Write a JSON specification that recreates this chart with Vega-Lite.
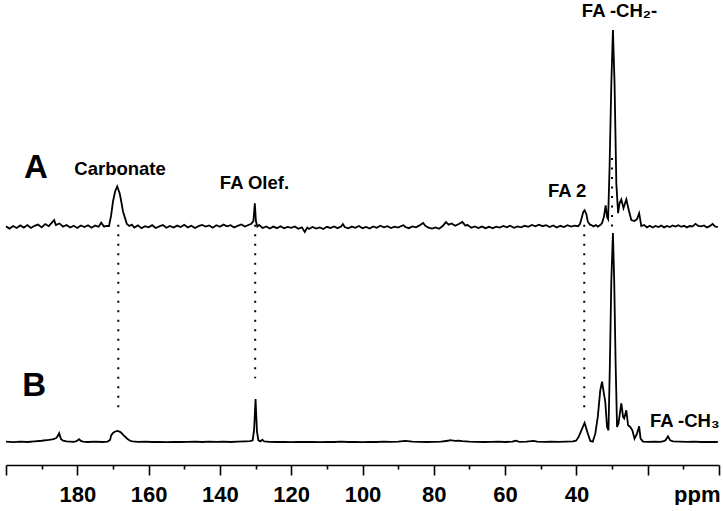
{
  "$schema": "https://vega.github.io/schema/vega-lite/v6.json",
  "width": 713,
  "height": 465,
  "padding": {"left": 2, "top": 0, "right": 8, "bottom": 0},
  "background": "white",
  "config": {"view": {"stroke": null}, "font": "Liberation Sans"},
  "datasets": {
    "A": [
      {"ppm":200,"I":0.3},{"ppm":199,"I":-0.8},{"ppm":198,"I":0.5},{"ppm":197,"I":-0.5},{"ppm":196,"I":0.8},{"ppm":195,"I":-0.3},{"ppm":194,"I":1.0},{"ppm":193,"I":-0.5},{"ppm":192,"I":0.6},{"ppm":191,"I":1.2},{"ppm":190,"I":-0.2},{"ppm":189,"I":1.5},{"ppm":188,"I":0.4},{"ppm":187,"I":2.5},{"ppm":186.5,"I":3.5},{"ppm":186,"I":1.0},{"ppm":185,"I":1.8},{"ppm":184,"I":0.2},{"ppm":183,"I":1.0},{"ppm":182,"I":-0.3},{"ppm":181,"I":0.6},{"ppm":180,"I":-0.5},{"ppm":179,"I":0.8},{"ppm":178,"I":0.0},{"ppm":177,"I":0.9},{"ppm":176,"I":-0.4},{"ppm":175,"I":0.7},{"ppm":174,"I":0.1},{"ppm":173.3,"I":2.2},{"ppm":172.5,"I":0.2},{"ppm":171.8,"I":0.6},{"ppm":171.1,"I":0.5},{"ppm":170.5,"I":6},{"ppm":170.0,"I":12.8},{"ppm":169.4,"I":18},{"ppm":168.8,"I":20.6},{"ppm":168.1,"I":17},{"ppm":167.65,"I":12.8},{"ppm":167.2,"I":8},{"ppm":166.7,"I":5},{"ppm":166.1,"I":1.5},{"ppm":165.4,"I":0.5},{"ppm":164.7,"I":1.2},{"ppm":164,"I":-0.3},{"ppm":163,"I":0.8},{"ppm":162,"I":-0.6},{"ppm":161,"I":0.4},{"ppm":160,"I":-0.2},{"ppm":159,"I":0.9},{"ppm":158,"I":-0.5},{"ppm":157,"I":0.3},{"ppm":156,"I":1.0},{"ppm":155,"I":-0.4},{"ppm":154,"I":0.5},{"ppm":153,"I":-0.3},{"ppm":152,"I":0.7},{"ppm":151,"I":0.0},{"ppm":150,"I":1.1},{"ppm":149,"I":-0.2},{"ppm":148,"I":0.6},{"ppm":147,"I":-0.5},{"ppm":146,"I":0.4},{"ppm":145,"I":1.0},{"ppm":144,"I":0.2},{"ppm":143,"I":0.8},{"ppm":142,"I":-0.4},{"ppm":141,"I":0.9},{"ppm":140,"I":0.1},{"ppm":139,"I":1.2},{"ppm":138,"I":0.3},{"ppm":137,"I":0.9},{"ppm":136,"I":-0.3},{"ppm":135,"I":0.6},{"ppm":134,"I":1.3},{"ppm":133,"I":0.2},{"ppm":132,"I":1.0},{"ppm":131.2,"I":1.6},{"ppm":130.6,"I":3},{"ppm":130.2,"I":12},{"ppm":129.9,"I":3},{"ppm":129.5,"I":0.2},{"ppm":129,"I":1.0},{"ppm":128,"I":-0.5},{"ppm":127,"I":0.3},{"ppm":126,"I":-0.8},{"ppm":125,"I":0.2},{"ppm":124,"I":-0.6},{"ppm":123,"I":0.4},{"ppm":122,"I":-0.7},{"ppm":121,"I":0.0},{"ppm":120,"I":-0.4},{"ppm":119,"I":0.3},{"ppm":118,"I":-0.9},{"ppm":117,"I":-0.2},{"ppm":116.2,"I":-2.5},{"ppm":115.5,"I":-0.3},{"ppm":115,"I":-1.0},{"ppm":114,"I":0.0},{"ppm":113,"I":-0.8},{"ppm":112,"I":-0.2},{"ppm":111,"I":-1.0},{"ppm":110,"I":0.1},{"ppm":109,"I":-0.5},{"ppm":108,"I":0.3},{"ppm":107,"I":-0.6},{"ppm":106,"I":0.2},{"ppm":105.5,"I":1.5},{"ppm":105,"I":0.0},{"ppm":104,"I":-0.7},{"ppm":103,"I":0.2},{"ppm":102,"I":-0.4},{"ppm":101,"I":0.5},{"ppm":100,"I":-0.6},{"ppm":99,"I":0.0},{"ppm":98,"I":-0.8},{"ppm":97,"I":0.3},{"ppm":96,"I":-0.4},{"ppm":95,"I":0.6},{"ppm":94,"I":-0.2},{"ppm":93,"I":0.4},{"ppm":92,"I":-0.5},{"ppm":91,"I":0.2},{"ppm":90,"I":-0.3},{"ppm":89,"I":0.6},{"ppm":88.5,"I":0.9},{"ppm":88,"I":0.0},{"ppm":87,"I":-0.6},{"ppm":86,"I":0.3},{"ppm":85,"I":-0.2},{"ppm":84,"I":0.8},{"ppm":83,"I":2.0},{"ppm":82.3,"I":0.5},{"ppm":81.5,"I":-0.3},{"ppm":80.5,"I":-0.8},{"ppm":79.5,"I":-0.2},{"ppm":78.5,"I":-0.9},{"ppm":77.5,"I":0.5},{"ppm":76.6,"I":2.5},{"ppm":75.8,"I":1.2},{"ppm":75,"I":1.8},{"ppm":74,"I":0.6},{"ppm":73,"I":1.5},{"ppm":72,"I":2.6},{"ppm":71.2,"I":0.8},{"ppm":70.5,"I":1.0},{"ppm":69.5,"I":-0.4},{"ppm":68.5,"I":0.3},{"ppm":67.5,"I":-0.5},{"ppm":66.5,"I":0.2},{"ppm":65.5,"I":-0.6},{"ppm":64.5,"I":0.1},{"ppm":63.5,"I":-0.7},{"ppm":62.5,"I":0.2},{"ppm":61.5,"I":-0.3},{"ppm":60.5,"I":0.5},{"ppm":59.5,"I":-0.2},{"ppm":58.6,"I":0.6},{"ppm":57.5,"I":-0.4},{"ppm":56.5,"I":0.3},{"ppm":55.5,"I":-0.2},{"ppm":54.5,"I":0.6},{"ppm":53.5,"I":0.1},{"ppm":52.5,"I":1.0},{"ppm":51.5,"I":0.3},{"ppm":50.5,"I":1.2},{"ppm":49.5,"I":0.4},{"ppm":48.5,"I":0.9},{"ppm":47.5,"I":0.0},{"ppm":46.5,"I":0.8},{"ppm":45.5,"I":-0.3},{"ppm":44.5,"I":0.6},{"ppm":43.5,"I":0.0},{"ppm":42.5,"I":0.9},{"ppm":41.5,"I":0.2},{"ppm":40.5,"I":0.7},{"ppm":39.5,"I":0.4},{"ppm":39.0,"I":1.5},{"ppm":38.6,"I":4},{"ppm":38.1,"I":7.5},{"ppm":37.7,"I":8.5},{"ppm":37.2,"I":6.5},{"ppm":36.8,"I":2.7},{"ppm":36.2,"I":1.2},{"ppm":35.8,"I":1.0},{"ppm":35.2,"I":0.3},{"ppm":34.5,"I":1.0},{"ppm":34.0,"I":0.2},{"ppm":33.3,"I":1.0},{"ppm":32.8,"I":2.0},{"ppm":32.3,"I":5},{"ppm":31.8,"I":11},{"ppm":31.4,"I":5},{"ppm":31.1,"I":4},{"ppm":30.7,"I":30},{"ppm":30.2,"I":73},{"ppm":29.75,"I":100},{"ppm":29.3,"I":73},{"ppm":28.8,"I":22},{"ppm":28.3,"I":7},{"ppm":27.9,"I":12},{"ppm":27.4,"I":14},{"ppm":26.8,"I":9.5},{"ppm":26.0,"I":14},{"ppm":25.3,"I":8.5},{"ppm":24.6,"I":3.5},{"ppm":23.7,"I":3},{"ppm":23.0,"I":4},{"ppm":22.4,"I":7},{"ppm":21.8,"I":0.5},{"ppm":21.0,"I":1.0},{"ppm":20.2,"I":-0.2},{"ppm":19.4,"I":0.6},{"ppm":18.6,"I":-0.3},{"ppm":17.8,"I":0.5},{"ppm":17,"I":0.0},{"ppm":16.2,"I":0.7},{"ppm":15.4,"I":-0.2},{"ppm":14.6,"I":0.5},{"ppm":13.8,"I":0.0},{"ppm":13,"I":0.8},{"ppm":12.2,"I":0.2},{"ppm":11.4,"I":0.9},{"ppm":10.6,"I":0.1},{"ppm":9.8,"I":0.6},{"ppm":9.0,"I":-0.2},{"ppm":8.2,"I":0.5},{"ppm":7.4,"I":0.3},{"ppm":6.6,"I":1.6},{"ppm":5.8,"I":0.5},{"ppm":5.0,"I":0.3},{"ppm":4.2,"I":0.8},{"ppm":3.4,"I":-0.2},{"ppm":2.6,"I":0.4},{"ppm":1.8,"I":1.5},{"ppm":1.0,"I":0.2},{"ppm":0.3,"I":0.0}
    ],
    "B": [
      {"ppm":200,"I":0.2},{"ppm":198,"I":-0.1},{"ppm":196,"I":0.2},{"ppm":194,"I":0.0},{"ppm":192,"I":0.3},{"ppm":190,"I":0.6},{"ppm":188,"I":1.0},{"ppm":187,"I":1.3},{"ppm":186,"I":1.8},{"ppm":185.5,"I":2.8},{"ppm":185.1,"I":4.2},{"ppm":184.6,"I":1.5},{"ppm":184,"I":0.6},{"ppm":183,"I":0.3},{"ppm":182,"I":0.2},{"ppm":181,"I":0.1},{"ppm":180.2,"I":0.4},{"ppm":179.5,"I":1.3},{"ppm":179,"I":0.5},{"ppm":178.4,"I":0.2},{"ppm":177,"I":0.0},{"ppm":175,"I":0.2},{"ppm":173,"I":0.0},{"ppm":171.5,"I":0.2},{"ppm":170.8,"I":1.0},{"ppm":170.5,"I":3.2},{"ppm":170,"I":4.3},{"ppm":169.5,"I":4.9},{"ppm":168.8,"I":5.3},{"ppm":168,"I":4.9},{"ppm":167.5,"I":4.1},{"ppm":167.0,"I":3.2},{"ppm":166.5,"I":2.4},{"ppm":166.0,"I":1.5},{"ppm":165.2,"I":0.6},{"ppm":164.5,"I":0.3},{"ppm":163,"I":0.1},{"ppm":161,"I":0.2},{"ppm":159,"I":0.0},{"ppm":157,"I":0.1},{"ppm":155,"I":-0.1},{"ppm":153,"I":0.1},{"ppm":151,"I":0.0},{"ppm":149,"I":0.1},{"ppm":147,"I":0.2},{"ppm":145,"I":0.0},{"ppm":143,"I":0.2},{"ppm":141,"I":0.1},{"ppm":139,"I":0.2},{"ppm":137,"I":0.0},{"ppm":135,"I":0.2},{"ppm":133,"I":0.3},{"ppm":131.5,"I":0.4},{"ppm":130.8,"I":0.8},{"ppm":130.4,"I":6},{"ppm":130.0,"I":20.6},{"ppm":129.6,"I":5},{"ppm":129.2,"I":0.8},{"ppm":128.6,"I":0.3},{"ppm":128.1,"I":1.1},{"ppm":127.6,"I":0.3},{"ppm":126,"I":0.1},{"ppm":124,"I":0.0},{"ppm":122,"I":0.1},{"ppm":120,"I":-0.1},{"ppm":118,"I":0.1},{"ppm":116,"I":0.0},{"ppm":114,"I":0.1},{"ppm":112,"I":-0.1},{"ppm":110,"I":0.1},{"ppm":108,"I":0.0},{"ppm":106,"I":0.2},{"ppm":104,"I":0.0},{"ppm":102,"I":0.1},{"ppm":100,"I":-0.1},{"ppm":98,"I":0.1},{"ppm":96,"I":0.0},{"ppm":94,"I":0.2},{"ppm":92,"I":0.1},{"ppm":90,"I":0.2},{"ppm":88,"I":0.5},{"ppm":86,"I":0.2},{"ppm":84,"I":0.1},{"ppm":82,"I":0.0},{"ppm":80,"I":0.1},{"ppm":78,"I":0.2},{"ppm":76,"I":0.6},{"ppm":75.5,"I":0.9},{"ppm":74,"I":0.5},{"ppm":73,"I":0.7},{"ppm":72,"I":0.4},{"ppm":70,"I":0.2},{"ppm":68,"I":0.1},{"ppm":66,"I":0.0},{"ppm":64,"I":0.1},{"ppm":62,"I":0.2},{"ppm":60,"I":0.0},{"ppm":58,"I":0.2},{"ppm":57,"I":0.6},{"ppm":56,"I":0.1},{"ppm":54,"I":0.2},{"ppm":52,"I":0.5},{"ppm":51,"I":0.2},{"ppm":49,"I":0.1},{"ppm":47,"I":0.2},{"ppm":45,"I":0.1},{"ppm":43,"I":0.2},{"ppm":41,"I":0.3},{"ppm":40.1,"I":0.6},{"ppm":39.4,"I":2.4},{"ppm":38.6,"I":5.6},{"ppm":37.7,"I":9.2},{"ppm":36.8,"I":4.1},{"ppm":36.1,"I":0.5},{"ppm":35.4,"I":0.2},{"ppm":34.7,"I":4},{"ppm":34.0,"I":12},{"ppm":33.3,"I":24.8},{"ppm":32.8,"I":28.9},{"ppm":32.3,"I":23.3},{"ppm":31.9,"I":19.2},{"ppm":31.4,"I":7.2},{"ppm":31.0,"I":5.6},{"ppm":30.6,"I":37.8},{"ppm":30.2,"I":77.5},{"ppm":29.75,"I":100},{"ppm":29.4,"I":77.5},{"ppm":29.0,"I":37.8},{"ppm":28.6,"I":7.2},{"ppm":28.2,"I":8.9},{"ppm":27.4,"I":18.5},{"ppm":26.9,"I":12},{"ppm":26.6,"I":11.3},{"ppm":26.0,"I":15.2},{"ppm":25.5,"I":8},{"ppm":24.9,"I":7.2},{"ppm":24.3,"I":5.6},{"ppm":23.7,"I":1.6},{"ppm":23.0,"I":4},{"ppm":22.4,"I":7.5},{"ppm":22.0,"I":1.6},{"ppm":21.3,"I":0.2},{"ppm":20,"I":0.1},{"ppm":18,"I":0.2},{"ppm":16.5,"I":0.1},{"ppm":15.5,"I":0.4},{"ppm":15.0,"I":0.8},{"ppm":14.3,"I":2.7},{"ppm":13.7,"I":0.8},{"ppm":12.9,"I":0.3},{"ppm":11,"I":0.2},{"ppm":9,"I":0.1},{"ppm":7,"I":0.2},{"ppm":5,"I":0.0},{"ppm":3,"I":0.1},{"ppm":1,"I":0.0},{"ppm":0.3,"I":0.1}
    ],
    "rules": [
      {"ppm":168.5,"top":104,"bottom":13.9},
      {"ppm":130.1,"top":104,"bottom":30.5},
      {"ppm":37.8,"top":104,"bottom":15.3},
      {"ppm":30.0,"top":135.9,"bottom":100}
    ],
    "letters": [
      {"label":"A","ppm":191.6,"I":131.3},
      {"label":"B","ppm":192.1,"I":26.8}
    ],
    "notes": [
      {"label":"FA -CH₂-","ppm":27.9,"I":206.0},
      {"label":"Carbonate","ppm":168.0,"I":130.4},
      {"label":"FA Olef.","ppm":130.3,"I":123.7},
      {"label":"FA 2","ppm":42.6,"I":119.9},
      {"label":"FA -CH₃","ppm":9.6,"I":10.0}
    ]
  },
  "layer": [
    {
      "data": {"name": "A"},
      "mark": {"type": "line", "color": "black", "strokeWidth": 1.8, "interpolate": "linear"},
      "encoding": {
        "x": {"field": "ppm", "type": "quantitative",
          "scale": {"domain": [200, 0], "nice": false, "zero": false},
          "axis": {
            "orient": "bottom",
            "values": [200,180,160,140,120,100,80,60,40,20,0],
            "labelExpr": "datum.value >= 40 && datum.value <= 180 ? datum.label : ''",
            "grid": false, "domain": true, "domainColor": "black", "domainWidth": 1.6,
            "ticks": true, "tickColor": "black", "tickWidth": 1.6, "tickSize": 10,
            "labelFont": "Liberation Sans", "labelFontWeight": "bold", "labelFontSize": 22,
            "labelColor": "black", "labelPadding": 9, "labelFlush": false, "labelOverlap": false, "labelBound": false,
            "title": "ppm", "titleFont": "Liberation Sans", "titleFontWeight": "bold", "titleFontSize": 22,
            "titleColor": "black", "titleAlign": "right", "titleBaseline": "alphabetic", "titleAnchor": null,
            "titleX": 714, "titleY": 36, "titleAngle": 0
          }},
        "y": {"field": "I", "type": "quantitative",
          "scale": {"domain": [-120.8, 115.2], "nice": false, "zero": false}, "axis": null}
      }
    },
    {
      "data": {"name": "A"},
      "mark": {"type": "rule", "opacity": 0},
      "encoding": {
        "x": {"field": "ppm", "type": "quantitative",
          "scale": {"domain": [200, 0], "nice": false, "zero": false},
          "axis": {
            "orient": "bottom",
            "values": [190,170,150,130,110,90,70,50,30,10],
            "labels": false, "grid": false, "domain": false,
            "ticks": true, "tickColor": "black", "tickWidth": 1.6, "tickSize": 4, "title": null
          }}
      }
    },
    {
      "data": {"name": "B"},
      "mark": {"type": "line", "color": "black", "strokeWidth": 1.8, "interpolate": "linear"},
      "encoding": {
        "x": {"field": "ppm", "type": "quantitative", "axis": null},
        "y": {"field": "I", "type": "quantitative",
          "scale": {"domain": [-11, 211.5], "nice": false, "zero": false}, "axis": null}
      }
    },
    {
      "data": {"name": "rules"},
      "mark": {"type": "rule", "color": "black", "strokeWidth": 2, "strokeDash": [2, 7.5]},
      "encoding": {
        "x": {"field": "ppm", "type": "quantitative", "axis": null},
        "y": {"field": "top", "type": "quantitative",
          "scale": {"domain": [-11, 211.5], "nice": false, "zero": false}, "axis": null},
        "y2": {"field": "bottom"}
      }
    },
    {
      "data": {"name": "letters"},
      "mark": {"type": "text", "font": "Liberation Sans", "fontWeight": "bold", "fontSize": 33, "color": "black", "align": "center", "baseline": "middle"},
      "encoding": {
        "x": {"field": "ppm", "type": "quantitative", "axis": null},
        "y": {"field": "I", "type": "quantitative",
          "scale": {"domain": [-11, 211.5], "nice": false, "zero": false}, "axis": null},
        "text": {"field": "label"}
      }
    },
    {
      "data": {"name": "notes"},
      "mark": {"type": "text", "font": "Liberation Sans", "fontWeight": "bold", "fontSize": 18.5, "color": "black", "align": "center", "baseline": "middle"},
      "encoding": {
        "x": {"field": "ppm", "type": "quantitative", "axis": null},
        "y": {"field": "I", "type": "quantitative",
          "scale": {"domain": [-11, 211.5], "nice": false, "zero": false}, "axis": null},
        "text": {"field": "label"}
      }
    }
  ],
  "resolve": {"scale": {"y": "independent"}, "axis": {"x": "independent"}}
}
